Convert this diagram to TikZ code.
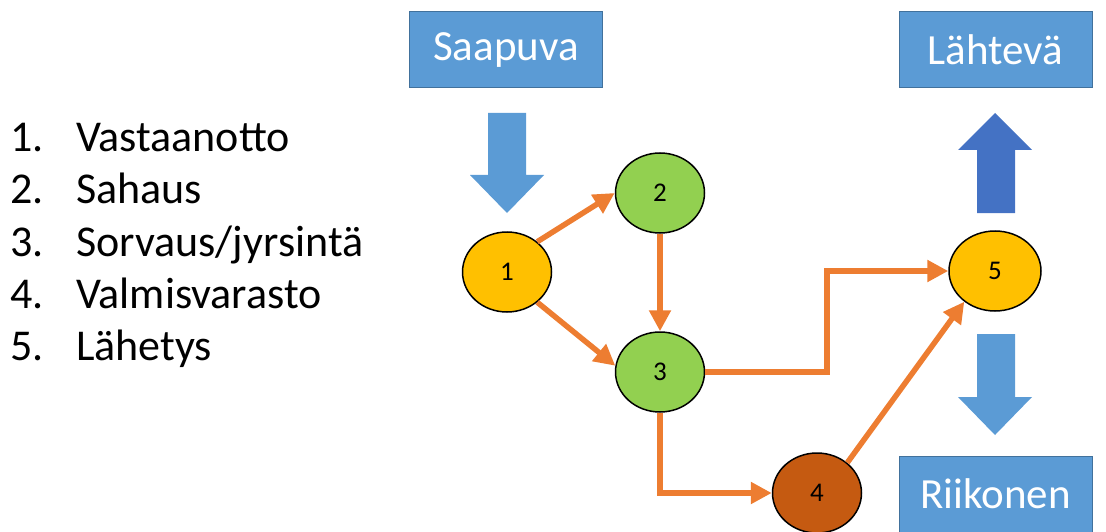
\documentclass[tikz,border=0pt]{standalone}
\usepackage{fontspec}
\setmainfont{Carlito}
\usetikzlibrary{shapes.geometric,arrows.meta}
\definecolor{boxblue}{HTML}{5B9BD5}
\definecolor{boxedge}{HTML}{41719C}
\definecolor{upblue}{HTML}{4472C4}
\definecolor{flowor}{HTML}{ED7D31}
\definecolor{stageyellow}{HTML}{FFC000}
\definecolor{stagegreen}{HTML}{92D050}
\definecolor{stagebrown}{HTML}{C55A11}
\tikzset{
  labelbox/.style={draw=boxedge, line width=1pt, fill=boxblue, text=white,
    minimum width=193pt, minimum height=76pt, inner sep=0pt,
    font=\fontsize{43}{50}\selectfont},
  stage/.style={ellipse, draw=black, line width=1.5pt, minimum width=89pt,
    minimum height=80pt, inner sep=0pt, font=\fontsize{27}{32}\selectfont},
  flow/.style={draw=flowor, line width=5.5pt, line join=miter,
    -{Triangle[length=21pt,width=21pt]}},
  listnum/.style={anchor=base west, inner sep=0pt, font=\fontsize{44}{50}\selectfont},
}
\begin{document}
\begin{tikzpicture}[x=1pt,y=-1pt]
\useasboundingbox (0,0) rectangle (1106,532);

% process list
\foreach \n/\t [count=\i from 0] in {1/Vastaanotto, 2/Sahaus, 3/{Sorvaus/jyrsintä},
    4/Valmisvarasto, 5/Lähetys}{
  \node[listnum] (num\n) at (10,152+52*\i) {\n.};
  \node[listnum] (item\n) at (76,152+52*\i) {\t};
}

% input / output boxes
\node[labelbox] (in)   at (506,50)  {Saapuva};
\node[labelbox] (out)  at (995.5,50)  {Lähtevä};
\node[labelbox] (scrap) at (995.5,494) {Riikonen};

% block arrows
\fill[boxblue] (488,113) -- (526,113) -- (526,175) -- (544,175) -- (507,213)
  -- (470,175) -- (488,175) -- cycle;
\fill[upblue] (977,213) -- (1015,213) -- (1015,150) -- (1032,150) -- (995,113)
  -- (958,150) -- (977,150) -- cycle;
\fill[boxblue] (977,334) -- (1015,334) -- (1015,397) -- (1032,397) -- (995,435)
  -- (958,397) -- (977,397) -- cycle;

% stages
\node[stage, fill=stageyellow] (n1) at (507,272) {1};
\node[stage, fill=stagegreen]  (n2) at (660,193) {2};
\node[stage, fill=stagegreen]  (n3) at (660,372) {3};
\node[stage, fill=stagebrown]  (n4) at (817,493) {4};
\node[stage, fill=stageyellow, minimum width=92pt] (n5) at (995,271) {5};

% material flow
\coordinate (k35) at (827,320);
\draw[flow] (n1.45) -- (n2.west);
\draw[flow] (n1.-45) -- (n3.172);
\draw[flow] (n2) -- (n3);
\draw[flow] (n3.east) -| (k35) |- (n5.west);
\draw[flow] (n3.south) |- (n4.west);
\draw[flow] (n4.45) -- (n5.-135);
\end{tikzpicture}
\end{document}
